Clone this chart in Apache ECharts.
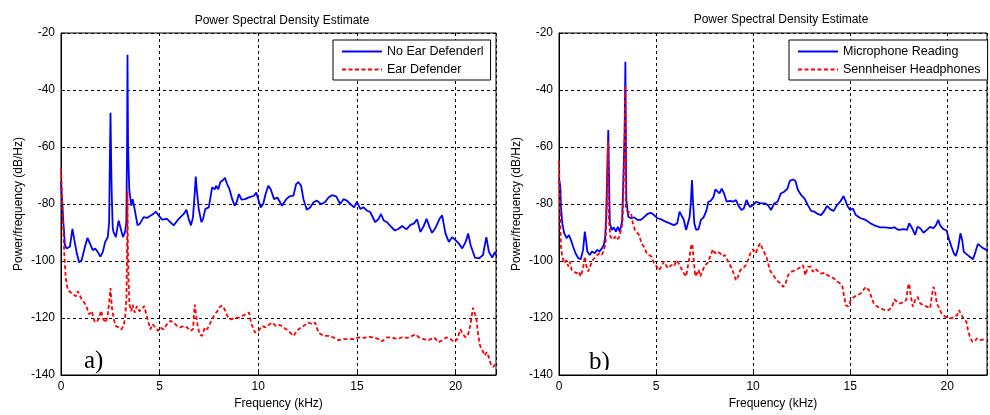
<!DOCTYPE html>
<html>
<head>
<meta charset="utf-8">
<script src="https://cdn.jsdelivr.net/npm/echarts@6/dist/echarts.min.js"></script>
<style>
html,body{margin:0;padding:0;background:#fff;}
#c{width:990px;height:415px;}
</style>
</head>
<body>
<div id="c"></div>
<script>
// ---- data (frequency in kHz, PSD in dB/Hz) ----
const titleText = 'Power Spectral Density Estimate';
const xName = 'Frequency (kHz)';
const yName = 'Power/frequency (dB/Hz)';
const xTicks = [0, 5, 10, 15, 20];
const yTicks = [-140, -120, -100, -80, -60, -40, -20];

const noDefenderF = [0,0.05,0.12,0.2,0.28,0.37,0.45,0.58,0.66,0.8,0.92,1.05,1.19,1.34,1.47,1.61,1.73,1.86,2.0,2.12,2.24,2.37,2.44,2.48,2.51,2.54,2.57,2.62,2.66,2.78,2.92,3.03,3.14,3.25,3.31,3.35,3.37,3.40,3.46,3.56,3.63,3.73,3.8,3.88,4.0,4.19,4.36,4.61,4.81,4.95,5.12,5.37,5.71,5.97,6.22,6.36,6.47,6.59,6.69,6.78,6.83,6.88,6.98,7.12,7.2,7.32,7.49,7.66,7.8,7.86,7.97,8.08,8.22,8.31,8.42,8.54,8.68,8.8,8.9,9.02,9.15,9.32,9.53,9.78,9.9,10.0,10.12,10.25,10.37,10.51,10.63,10.8,10.97,11.2,11.42,11.59,11.78,11.92,12.03,12.17,12.29,12.46,12.63,12.8,12.97,13.19,13.39,13.56,13.73,13.95,14.15,14.32,14.49,14.66,14.86,15.0,15.17,15.34,15.51,15.68,15.93,16.1,16.22,16.36,16.53,16.69,16.92,17.12,17.29,17.51,17.71,17.88,18.05,18.22,18.39,18.53,18.68,18.81,18.98,19.19,19.32,19.49,19.66,19.83,20.0,20.17,20.34,20.51,20.64,20.76,20.98,21.19,21.39,21.56,21.69,21.86,22.0,22.05];
const noDefenderDb = [-72,-72.5,-86.4,-94.4,-95.6,-96,-95,-88.7,-92,-97.3,-100.5,-99.7,-95.6,-91.9,-93.9,-96.2,-95.6,-96.8,-98.5,-96.8,-93.3,-91.6,-86.4,-62,-48,-64,-76,-88,-89.8,-91.6,-85.8,-88.7,-91.6,-89.8,-86.4,-60,-27.6,-60,-74.8,-80.6,-78.3,-81.7,-82.3,-87.5,-86.9,-84.6,-84.9,-83.8,-82.7,-84,-85.5,-85.2,-87.5,-85.2,-83.5,-82,-85.2,-87.5,-84.6,-76,-70.4,-74.8,-81.7,-86.4,-85.2,-81.7,-81.2,-74.2,-74.8,-73.6,-74.8,-72.3,-71.6,-70.8,-73,-74.8,-78.3,-80.6,-79.4,-76.5,-78.5,-78.3,-77.7,-77.1,-76,-78.3,-81.2,-80,-76.5,-73.6,-74.8,-78.3,-77.7,-80.6,-78.3,-77.3,-77.1,-73,-72.3,-73.6,-78.3,-82,-81.2,-79.4,-78.8,-80.1,-79.3,-77.7,-76.9,-77.3,-80,-78.3,-78.8,-80,-81.2,-79.2,-81.7,-81.2,-82.3,-82.9,-86.4,-85.2,-83.5,-85.8,-86.4,-87.7,-89.3,-88.7,-87.7,-88.9,-87.3,-86.9,-85.4,-89.8,-87.7,-85.2,-88.1,-90.1,-88.4,-85.2,-84,-90.4,-93.3,-91.6,-92.7,-93.9,-95.6,-93.3,-90.4,-94.4,-98.8,-99.1,-97.9,-91.6,-96.8,-98.8,-96.8,-98];

const defenderF = [0,0.07,0.12,0.17,0.24,0.34,0.46,0.63,0.75,0.85,0.93,1.05,1.19,1.31,1.42,1.56,1.69,1.81,1.93,2.03,2.15,2.27,2.37,2.44,2.51,2.58,2.68,2.78,2.92,3.05,3.17,3.25,3.32,3.35,3.37,3.39,3.42,3.47,3.56,3.63,3.73,3.85,3.97,4.1,4.22,4.32,4.41,4.53,4.64,4.78,4.92,5.03,5.2,5.37,5.54,5.71,5.88,6.05,6.22,6.39,6.56,6.69,6.78,6.81,6.9,7.02,7.15,7.29,7.41,7.58,7.75,7.92,8.08,8.2,8.34,8.47,8.64,8.81,9.02,9.19,9.36,9.53,9.66,9.83,10.0,10.2,10.37,10.58,10.71,10.88,11.1,11.27,11.53,11.78,12.03,12.29,12.54,12.75,12.88,13.05,13.31,13.56,13.81,14.07,14.32,14.58,14.83,15.08,15.34,15.59,15.85,16.1,16.27,16.53,16.78,17.03,17.29,17.54,17.8,17.97,18.14,18.39,18.64,18.9,19.15,19.32,19.53,19.75,19.92,20.08,20.25,20.37,20.51,20.64,20.76,20.88,20.97,21.05,21.14,21.24,21.36,21.49,21.58,21.69,21.78,21.9,22.03];
const defenderDb = [-67.3,-80.6,-89.8,-97.9,-106,-110,-110.9,-111.8,-112.4,-110.6,-111.2,-113.5,-114.7,-116.4,-118.7,-117.6,-121,-121.6,-119.9,-117.4,-120.5,-121.6,-118.7,-114.7,-109.5,-116.4,-120.5,-122.8,-123.3,-124,-122.8,-119.9,-113,-95,-75.4,-95,-106,-115.3,-117.6,-115.3,-118.1,-115.8,-117.6,-117,-115.8,-116.4,-121,-124,-122.2,-123.3,-124.5,-123.3,-124,-122.2,-121,-121.6,-122.8,-123.3,-122.8,-123.3,-124.5,-124,-115.3,-115.8,-121.6,-125.7,-126.3,-123.3,-124,-121.6,-119.3,-117.6,-115.8,-115.8,-117.6,-119.9,-120.5,-119.9,-119.9,-119.3,-118.7,-118.1,-122.2,-125.1,-124.5,-122.8,-123.3,-122.2,-121.6,-122.8,-122.4,-123.3,-124.5,-126.3,-124,-122.8,-121.6,-122.2,-121.6,-125.1,-126.3,-126.3,-126.8,-127.8,-127.4,-127.4,-127.4,-126.8,-127,-126.6,-126.8,-127.4,-128.2,-126.8,-126.8,-127.4,-126.8,-127,-126.3,-125.7,-126.8,-127.4,-127.8,-126.8,-128.5,-127.8,-126.8,-127.4,-128.5,-127.4,-124,-125.7,-126.8,-125.7,-122.2,-116.4,-116.2,-119.9,-125.7,-129.7,-131.4,-133.2,-132,-133.8,-136.1,-137.2,-136.1];

const micF = [0,0.07,0.1,0.17,0.27,0.39,0.51,0.61,0.73,0.85,0.99,1.12,1.24,1.33,1.39,1.46,1.58,1.7,1.84,1.97,2.09,2.21,2.31,2.38,2.43,2.5,2.54,2.57,2.62,2.72,2.82,2.93,3.03,3.13,3.25,3.3,3.38,3.42,3.45,3.47,3.57,3.71,3.88,4.05,4.22,4.39,4.56,4.73,4.9,5.07,5.27,5.49,5.71,5.92,6.09,6.21,6.31,6.43,6.55,6.65,6.73,6.8,6.85,6.9,6.97,7.07,7.19,7.31,7.45,7.59,7.7,7.82,7.96,8.06,8.16,8.27,8.38,8.5,8.64,8.81,8.98,9.12,9.23,9.4,9.52,9.66,9.83,10.0,10.17,10.37,10.59,10.77,10.92,11.09,11.26,11.43,11.6,11.77,11.89,12.06,12.18,12.31,12.48,12.65,12.82,12.99,13.16,13.33,13.5,13.67,13.81,13.98,14.15,14.32,14.49,14.66,14.78,14.86,15.0,15.14,15.29,15.54,15.8,16.05,16.31,16.56,16.82,17.07,17.28,17.5,17.76,17.93,18.04,18.13,18.23,18.35,18.47,18.61,18.78,18.95,19.12,19.29,19.42,19.54,19.63,19.8,19.97,20.1,20.22,20.34,20.44,20.56,20.68,20.77,20.85,20.99,21.16,21.33,21.46,21.58,21.7,21.84,22.0,22.05];
const micDb = [-71.3,-74,-81,-86.8,-90.3,-92,-90.9,-92.6,-95,-97.3,-99,-99.4,-96.1,-89.7,-92.6,-96.7,-97.9,-96.7,-97.3,-96.1,-96.7,-95.5,-94.4,-91.5,-84.5,-65,-54,-68,-86.8,-89.1,-88.2,-89.7,-88,-89.7,-86.2,-75.1,-55,-30.1,-62,-78.6,-84.5,-85,-84.7,-85.6,-85.6,-84.5,-83.5,-83.1,-83.9,-85,-85.4,-86.2,-86.8,-87.4,-86.8,-82.7,-82.4,-85.6,-89.1,-89.7,-84.5,-78.6,-71.6,-78.6,-86.8,-89.1,-88.8,-85.6,-84.7,-82.4,-79.2,-78.9,-77.5,-74.9,-75.4,-76.3,-74.6,-76.3,-79.2,-78.9,-79.2,-78.6,-80.4,-82.1,-81.6,-78.6,-81,-80.4,-79.2,-79.8,-79.8,-80.4,-82.1,-79.8,-79.2,-76.3,-75.7,-74.6,-71.9,-71.4,-71.9,-75.1,-76.9,-78.1,-80.4,-82.4,-82.7,-83.5,-83.9,-82.4,-80.7,-81.9,-82.4,-80.4,-79.2,-77.2,-79.2,-80.7,-82.1,-81.6,-83.9,-85,-85.6,-86.8,-87.7,-88.2,-88.2,-88.5,-88.2,-89.1,-88.8,-89.1,-86.8,-87.7,-89.1,-90.8,-88,-88.5,-90.1,-89.1,-88,-88.5,-87.4,-85.6,-87.4,-88.8,-89.3,-92.6,-95,-97.3,-98.2,-95.5,-90.3,-92.6,-96.7,-97.6,-98.5,-99.4,-96.7,-94,-94.7,-95.5,-96,-96.5];

const sennF = [0,0.03,0.07,0.1,0.17,0.27,0.39,0.48,0.56,0.65,0.78,0.9,1.02,1.12,1.24,1.33,1.41,1.5,1.63,1.75,1.84,1.97,2.09,2.21,2.31,2.4,2.46,2.52,2.57,2.65,2.77,2.89,2.99,3.11,3.2,3.27,3.36,3.42,3.45,3.54,3.62,3.71,3.79,3.91,4.01,4.13,4.25,4.39,4.52,4.64,4.76,4.9,5.03,5.15,5.27,5.41,5.54,5.66,5.78,5.92,6.05,6.17,6.29,6.43,6.55,6.65,6.73,6.8,6.87,6.94,7.02,7.11,7.19,7.28,7.41,7.53,7.65,7.79,7.93,8.04,8.16,8.3,8.44,8.55,8.67,8.81,8.93,9.03,9.12,9.23,9.35,9.49,9.63,9.74,9.86,10.0,10.14,10.26,10.37,10.51,10.68,10.87,11.04,11.21,11.38,11.55,11.67,11.8,11.97,12.14,12.31,12.45,12.57,12.69,12.82,12.96,13.08,13.2,13.33,13.5,13.67,13.84,14.01,14.18,14.35,14.49,14.61,14.69,14.78,14.9,15.03,15.2,15.37,15.54,15.68,15.8,15.97,16.09,16.22,16.39,16.56,16.77,16.99,17.16,17.28,17.41,17.59,17.76,17.89,17.98,18.04,18.13,18.23,18.35,18.47,18.61,18.78,18.95,19.12,19.2,19.29,19.37,19.46,19.59,19.71,19.88,20.05,20.22,20.39,20.51,20.61,20.73,20.85,20.99,21.07,21.16,21.29,21.41,21.53,21.67,21.8,22.0];
const sennDb = [-64.7,-75.1,-88,-95,-98.4,-100.8,-99.8,-101.9,-100.2,-103.1,-103.7,-104.3,-103.7,-105.4,-102.5,-98.4,-101.9,-103.7,-101.4,-99.6,-100.2,-97.9,-97.3,-97.9,-96.1,-93.8,-81,-58,-85.6,-91.5,-92.4,-91.5,-92.6,-91.5,-92,-86.8,-65,-38.5,-81.6,-82.7,-83.3,-83.1,-86.2,-89.1,-89.1,-90.9,-93.8,-95.2,-97.3,-97.9,-98.4,-100.8,-101.9,-103.3,-101.9,-100.2,-101.9,-102.5,-101.4,-101.9,-99.8,-100.8,-102.5,-104.3,-105.4,-104.9,-98.4,-95,-94,-99.6,-105.4,-104.3,-103.1,-105.4,-103.1,-101.4,-100.8,-98.4,-95.9,-97.3,-96.7,-97.3,-98.4,-97.9,-99.6,-101.4,-103.1,-104.9,-106.8,-105.4,-103.1,-102.5,-101.4,-99.6,-97.3,-95.9,-97.3,-95,-93.8,-96.1,-98.4,-103.3,-105,-106.7,-107.7,-109.1,-107.9,-105,-103.8,-103.3,-102.7,-102.1,-101.5,-105,-102.1,-101.9,-103.8,-102.7,-103.5,-104.4,-104.2,-105,-105.6,-106.2,-107.3,-107.9,-109.1,-112.6,-115.5,-116,-113.7,-112.6,-112,-111.4,-110.2,-109.1,-110.2,-112.6,-114.9,-116,-116.6,-117.2,-117.2,-116,-113.5,-114.3,-114.9,-114.3,-113.7,-109.1,-107.9,-112.6,-116,-113.7,-112.6,-114.9,-115.5,-116,-116.6,-112.6,-109.1,-110.2,-114.9,-116.6,-118.4,-119.5,-119.8,-120.1,-119.5,-119,-117.2,-119,-120.1,-121.3,-124.2,-126.5,-128.3,-128.3,-127.1,-127.7,-127.7,-127.3];

const panelA = { blue: 'No Ear Defenderl', red: 'Ear Defender', tag: 'a)' };
const panelB = { blue: 'Microphone Reading', red: 'Sennheiser Headphones', tag: 'b)' };

// ---- build chart ----
const FONT = 'Liberation Sans, Arial, sans-serif';
const pairs = (f, d) => f.map((x, i) => [x, d[i]]);
const chart = echarts.init(document.getElementById('c'), null, { renderer: 'canvas' });

function xAxisCfg(gi) {
  return {
    type: 'value', gridIndex: gi, min: 0, max: 22.05, interval: 5,
    name: xName, nameLocation: 'middle', nameGap: 23,
    nameTextStyle: { color: '#000', fontSize: 12, fontFamily: FONT },
    axisLine: { show: true, lineStyle: { color: '#000', width: 1 } },
    axisTick: { show: true, inside: true, length: 4, lineStyle: { color: '#000' } },
    axisLabel: { color: '#000', fontSize: 12, fontFamily: FONT, margin: 6,
      formatter: v => (xTicks.indexOf(v) >= 0 ? String(v) : '') },
    splitLine: { show: true, lineStyle: { color: '#000', type: [3, 3], width: 1 } }
  };
}
function yAxisCfg(gi) {
  return {
    type: 'value', gridIndex: gi, min: yTicks[0], max: yTicks[yTicks.length - 1], interval: 20,
    name: yName, nameLocation: 'middle', nameGap: 36,
    nameTextStyle: { color: '#000', fontSize: 12, fontFamily: FONT },
    axisLine: { show: true, lineStyle: { color: '#000', width: 1 } },
    axisTick: { show: true, inside: true, length: 4, lineStyle: { color: '#000' } },
    axisLabel: { color: '#000', fontSize: 12, fontFamily: FONT, margin: 6 },
    splitLine: { show: true, lineStyle: { color: '#000', type: [3, 3], width: 1 } }
  };
}
function lineSeries(name, data, gi, color, dashed) {
  return {
    type: 'line', name, data, xAxisIndex: gi, yAxisIndex: gi,
    symbol: 'none', animation: false, clip: true,
    lineStyle: { color, width: 1.8, type: dashed ? [4, 2.5] : 'solid' },
    itemStyle: { color }
  };
}
function legendCfg(names, left) {
  return {
    orient: 'vertical', left, top: 40,
    data: names, itemWidth: 40, itemHeight: 10, itemGap: 5,
    padding: [5, 7, 4, 8],
    borderColor: '#000', borderWidth: 1, backgroundColor: '#fff', borderRadius: 0,
    itemStyle: { opacity: 0, color: 'rgba(0,0,0,0)', borderWidth: 0 },
    lineStyle: { width: 2 },
    textStyle: { color: '#000', fontSize: 12.5, fontFamily: FONT },
    selectedMode: false
  };
}

chart.setOption({
  backgroundColor: '#fff',
  animation: false,
  title: [
    { text: titleText, left: 277, top: 10, textAlign: 'center',
      textStyle: { color: '#000', fontSize: 12, fontWeight: 'normal', fontFamily: FONT } },
    { text: titleText, left: 776, top: 9, textAlign: 'center',
      textStyle: { color: '#000', fontSize: 12, fontWeight: 'normal', fontFamily: FONT } }
  ],
  grid: [
    { left: 61, top: 33, width: 435, height: 344, show: true, borderColor: '#000', borderWidth: 1, backgroundColor: '#fff' },
    { left: 559, top: 33, width: 436, height: 344, show: true, borderColor: '#000', borderWidth: 1, backgroundColor: '#fff' }
  ],
  xAxis: [xAxisCfg(0), xAxisCfg(1)],
  yAxis: [yAxisCfg(0), yAxisCfg(1)],
  legend: [
    legendCfg([panelA.blue, panelA.red], 333),
    legendCfg([panelB.blue, panelB.red], 789)
  ],
  series: [
    lineSeries(panelA.blue, pairs(noDefenderF, noDefenderDb), 0, '#0000ff', false),
    lineSeries(panelA.red, pairs(defenderF, defenderDb), 0, '#ff0000', true),
    lineSeries(panelB.blue, pairs(micF, micDb), 1, '#0000ff', false),
    lineSeries(panelB.red, pairs(sennF, sennDb), 1, '#ff0000', true)
  ],
  graphic: [
    { type: 'text', left: 84, top: 349, z: 100,
      style: { text: panelA.tag, font: '25px "Liberation Serif", "Times New Roman", serif', fill: '#000' } },
    { type: 'text', left: 589, top: 350, z: 100,
      style: { text: panelB.tag, font: '25px "Liberation Serif", "Times New Roman", serif', fill: '#000' } },
    { type: 'rect', shape: { x: 585, y: 370, width: 32, height: 4 }, z: 101,
      style: { fill: '#fff' } }
  ]
});
</script>
</body>
</html>
